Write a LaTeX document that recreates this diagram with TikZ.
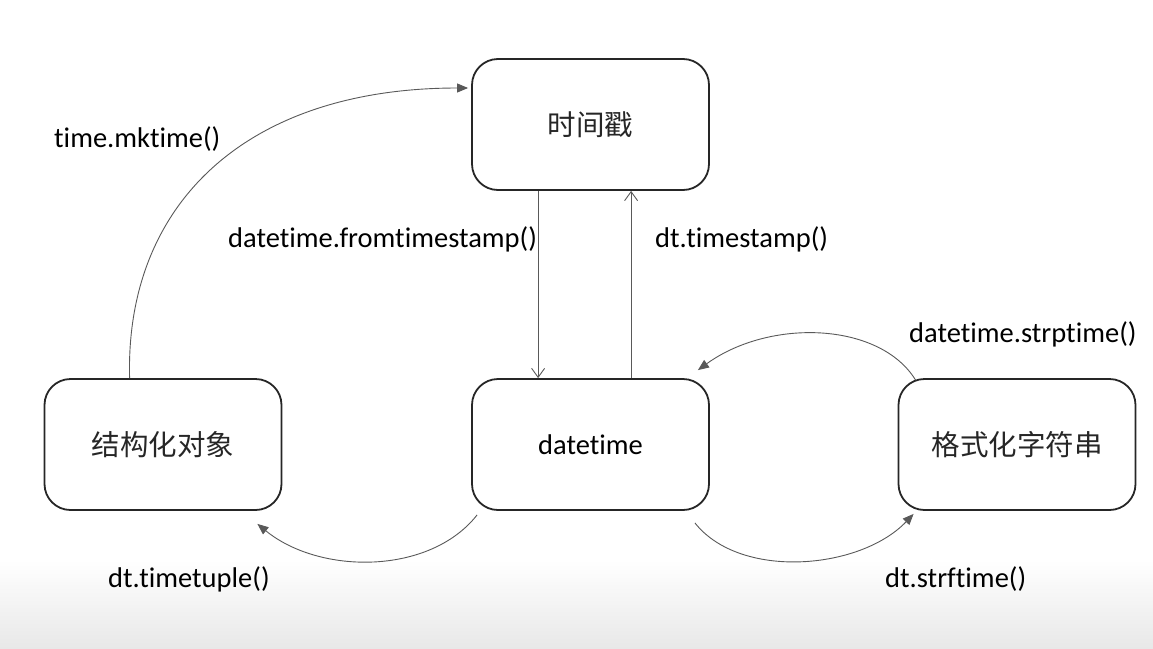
\documentclass[tikz,border=0pt]{standalone}
\usepackage{fontspec}
\setmainfont{Carlito}[Ligatures={NoCommon}]
\newfontfamily\cjk{Noto Sans CJK SC}
\usetikzlibrary{arrows.meta,calc}
\begin{document}
\begin{tikzpicture}[x=1pt,y=-1pt,
  box/.style={draw=black!85,line width=1.8pt,rounded corners=26pt,minimum width=237pt,minimum height=131pt,inner sep=0pt,font=\fontsize{28.5}{32}\selectfont},
  lbl/.style={font=\fontsize{28.5}{32}\selectfont,inner sep=0pt,anchor=base west},
  conn/.style={draw=black!65,line width=0.9pt},
  solidtip/.style={-{Triangle[length=11pt,width=9pt]}},
  opentip/.style={-{Straight Barb[length=9pt,width=13pt,line width=0.9pt]}}]
\useasboundingbox (0,0) rectangle (1153,648);
\shade[top color=white,bottom color=black!9] (0,560) rectangle (1153,648);
\node[box] (ts) at (590.5,124.5) {\cjk\color{black!85}时间戳};
\node[box] (obj) at (163,444.5) {\cjk\color{black!85}结构化对象};
\node[box] (dt) at (590.5,444.5) {datetime};
\node[box] (str) at (1017,444.5) {\cjk\color{black!85}格式化字符串};
% vertical connectors
\draw[conn,opentip] ($(ts.south west)+(67,0)$) coordinate (a1) -- (a1 |- dt.north);
\draw[conn,opentip] ($(dt.north west)+(160,0)$) coordinate (b1) -- (b1 |- ts.south);
% time.mktime
\coordinate (m0) at ($(obj.north west)+(86,0)$);
\coordinate (m3) at ($(ts.west)+(-3,-36.5)$);
\draw[conn,solidtip] (m0) .. controls (125,205) and (245,88) .. (m3);
% strptime
\coordinate (s0) at ($(str.north west)+(18,2)$);
\coordinate (s3) at ($(dt.north east)+(-12,-8)$);
\draw[conn,solidtip] (s0) .. controls (880,322) and (770,318) .. (s3);
% timetuple
\coordinate (t0) at ($(dt.south west)+(6,4)$);
\coordinate (t3) at ($(obj.south east)+(-25,13)$);
\draw[conn,solidtip] (t0) .. controls (430,575) and (320,575) .. (t3);
% strftime
\coordinate (f0) at ($(dt.south east)+(-15,12)$);
\coordinate (f3) at ($(str.south west)+(16,3)$);
\draw[conn,solidtip] (f0) .. controls (740,580) and (860,570) .. (f3);
% labels
\node[lbl] (l1) at (54,147) {time.mktime()};
\node[lbl] (l2) at (228,247) {datetime.fromtimestamp()};
\node[lbl] (l3) at (655,247) {dt.timestamp()};
\node[lbl] (l4) at (909,342) {datetime.strptime()};
\node[lbl] (l5) at (108,587) {dt.timetuple()};
\node[lbl] (l6) at (885,587) {dt.strftime()};
\end{tikzpicture}
\end{document}
